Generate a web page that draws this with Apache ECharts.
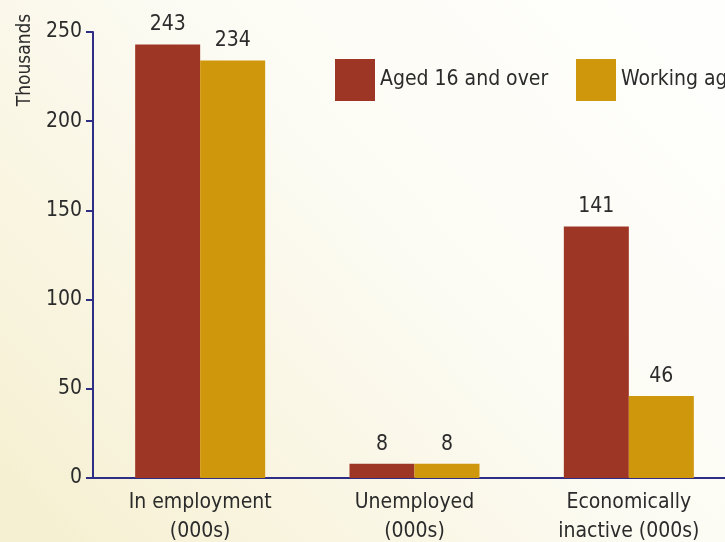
<!DOCTYPE html>
<html>
<head>
<meta charset="utf-8">
<script src="https://cdn.jsdelivr.net/npm/echarts@6/dist/echarts.min.js"></script>
<style>
  html, body { margin: 0; padding: 0; }
  #chart { width: 725px; height: 542px; }
</style>
</head>
<body>
<div id="chart"></div>
<script>
// Labour market status, thousands of people
const categories = ['In employment\n(000s)', 'Unemployed\n(000s)', 'Economically\ninactive (000s)'];
const aged16Over = [243, 8, 141];
const workingAge = [234, 8, 46];
const seriesNames = ['Aged 16 and over', 'Working age'];
const yTicks = { min: 0, max: 250, interval: 50 };

const FONT = "'Liberation Sans Narrow', 'DejaVu Sans Condensed', sans-serif";
const TEXT = '#2b2b2b';
const AXIS = '#2e2e86';
const RED = '#9e3625';
const GOLD = '#cf970c';
const FS = 21;

const chart = echarts.init(document.getElementById('chart'));

const legendCommon = {
  top: 54,
  itemWidth: 40,
  itemHeight: 42,
  icon: 'rect',
  textStyle: { fontFamily: FONT, fontSize: FS, color: TEXT, padding: [5, 0, 0, 0] },
  itemGap: 0,
  selectedMode: false
};

chart.setOption({
  animation: false,
  backgroundColor: {
    type: 'linear', x: 0.9, y: 0, x2: 0.1, y2: 1,
    colorStops: [
      { offset: 0, color: '#fefefc' },
      { offset: 0.45, color: '#fcfbf3' },
      { offset: 1, color: '#f6f0d3' }
    ]
  },
  textStyle: { fontFamily: FONT },
  grid: { left: 93, right: -11, top: 32, bottom: 64, containLabel: false, outerBoundsMode: 'none' },
  legend: [
    Object.assign({}, legendCommon, { left: 330, data: [seriesNames[0]] }),
    Object.assign({}, legendCommon, { left: 571, data: [seriesNames[1]] })
  ],
  graphic: [{
    type: 'text',
    x: 25, y: 60,
    rotation: Math.PI / 2,
    style: {
      text: 'Thousands',
      font: '19px ' + FONT,
      fill: TEXT,
      align: 'center',
      verticalAlign: 'middle'
    }
  }],
  xAxis: {
    type: 'category',
    data: categories,
    axisLine: { lineStyle: { color: AXIS, width: 2 } },
    axisTick: { show: false },
    axisLabel: {
      margin: 10,
      color: TEXT,
      fontFamily: FONT,
      fontSize: FS,
      lineHeight: 29,
      interval: 0
    }
  },
  yAxis: {
    type: 'value',
    min: yTicks.min, max: yTicks.max, interval: yTicks.interval,
    splitLine: { show: false },
    axisLine: { show: true, lineStyle: { color: AXIS, width: 2 } },
    axisTick: { show: true, length: 7, lineStyle: { color: AXIS, width: 2 } },
    axisLabel: { margin: 11, color: TEXT, fontFamily: FONT, fontSize: FS }
  },
  series: [
    {
      name: seriesNames[0], type: 'bar', data: aged16Over,
      barWidth: 65, barGap: '0%',
      itemStyle: { color: RED },
      label: { show: true, position: 'top', distance: 9, color: TEXT, fontFamily: FONT, fontSize: FS }
    },
    {
      name: seriesNames[1], type: 'bar', data: workingAge,
      barWidth: 65, barGap: '0%',
      itemStyle: { color: GOLD },
      label: { show: true, position: 'top', distance: 9, color: TEXT, fontFamily: FONT, fontSize: FS }
    }
  ]
});
</script>
</body>
</html>
